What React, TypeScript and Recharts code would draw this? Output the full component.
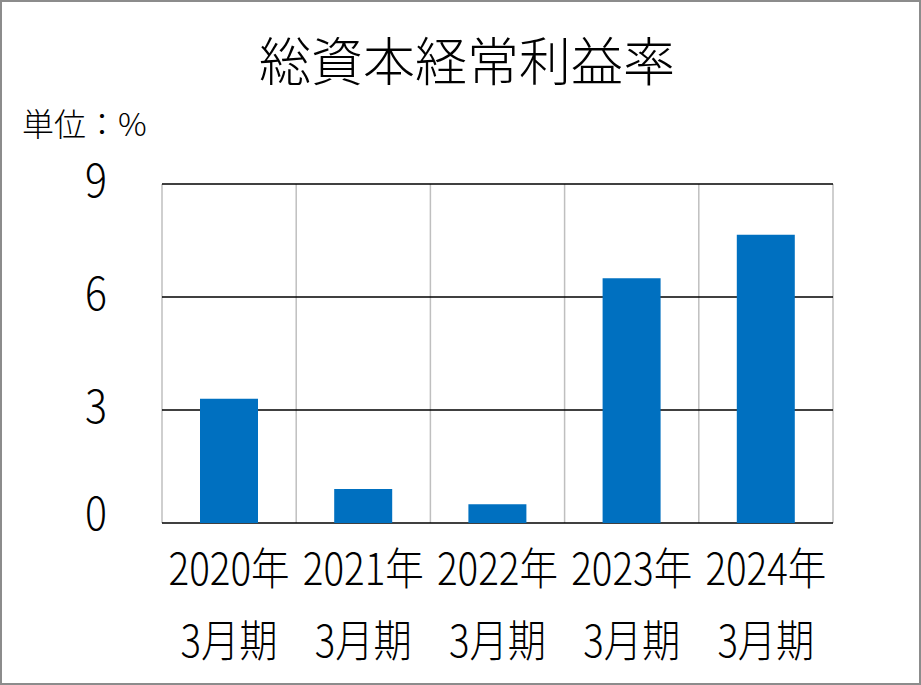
import { Bar, BarChart, CartesianGrid, XAxis, YAxis } from "recharts";

const years = ["2020年", "2021年", "2022年", "2023年", "2024年"];
const periods = ["3月期", "3月期", "3月期", "3月期", "3月期"];
const ratios = [3.3, 0.9, 0.5, 6.5, 7.65];
const yTicks = [0, 3, 6, 9];

const title = "総資本経常利益率";
const unitLabel = "単位：%";

const data = years.map((year, i) => ({ year, period: periods[i], ratio: ratios[i] }));

const font = '"Noto Sans CJK JP", "Noto Sans", sans-serif';
const weight = 300;

function XTick({ x, y, payload, index }: any) {
  return (
    <g>
      <text x={x} y={y + 62} textAnchor="middle" fontSize={44} fontWeight={weight} fill="#000" fontFamily={font} textLength={121} lengthAdjust="spacingAndGlyphs">
        {payload.value}
      </text>
      <text x={x} y={y + 134} textAnchor="middle" fontSize={44} fontWeight={weight} fill="#000" fontFamily={font} textLength={97} lengthAdjust="spacingAndGlyphs">
        {data[index]?.period}
      </text>
    </g>
  );
}

function YTick({ x, y, payload }: any) {
  // Excel nudges the zero label up a bit
  const dy = payload.value === 0 ? 7 : 13;
  return (
    <text x={x - 55} y={y + dy} textAnchor="end" fontSize={46} fontWeight={weight} fill="#000" fontFamily={font} textLength={22} lengthAdjust="spacingAndGlyphs">
      {payload.value}
    </text>
  );
}

export default function App() {
  return (
    <div
      style={{
        position: "absolute",
        left: 0,
        top: 0,
        width: 921,
        height: 685,
        boxSizing: "border-box",
        border: "2px solid #8c8c8c",
        background: "#fff",
        fontFamily: font,
      }}
    >
      <svg width={921} height={685} style={{ position: "absolute", left: -2, top: -2, pointerEvents: "none" }}>
        <text x={467} y={81} textAnchor="middle" fontSize={52} fontWeight={weight} fill="#000" fontFamily={font}>
          {title}
        </text>
        <text x={22} y={136} fontSize={32} fontWeight={weight} fill="#000" fontFamily={font}>
          {unitLabel}
        </text>
      </svg>
      <div style={{ position: "absolute", left: -2, top: -2 }}>
        <BarChart width={921} height={685} data={data} margin={{ top: 184, right: 88, bottom: 0, left: 0 }} barSize={58}>
          <CartesianGrid
            horizontal={false}
            stroke="#bfbfbf"
            strokeWidth={1.5}
            verticalCoordinatesGenerator={(props: any) => {
              const off = props.offset ?? { left: 162, width: props.width - 250 };
              return years.map((_, i) => off.left + (off.width * i) / years.length).concat(off.left + off.width);
            }}
          />
          <CartesianGrid vertical={false} stroke="#000" strokeWidth={1.5} />
          <XAxis dataKey="year" axisLine={false} tickLine={false} tickSize={0} tickMargin={0} height={162} interval={0} tick={<XTick />} />
          <YAxis
            domain={[0, 9]}
            ticks={yTicks}
            axisLine={false}
            tickLine={false}
            tickSize={0}
            tickMargin={0}
            width={162}
            tick={<YTick />}
          />
          <Bar dataKey="ratio" fill="#0070c0" isAnimationActive={false} />
        </BarChart>
      </div>
    </div>
  );
}
